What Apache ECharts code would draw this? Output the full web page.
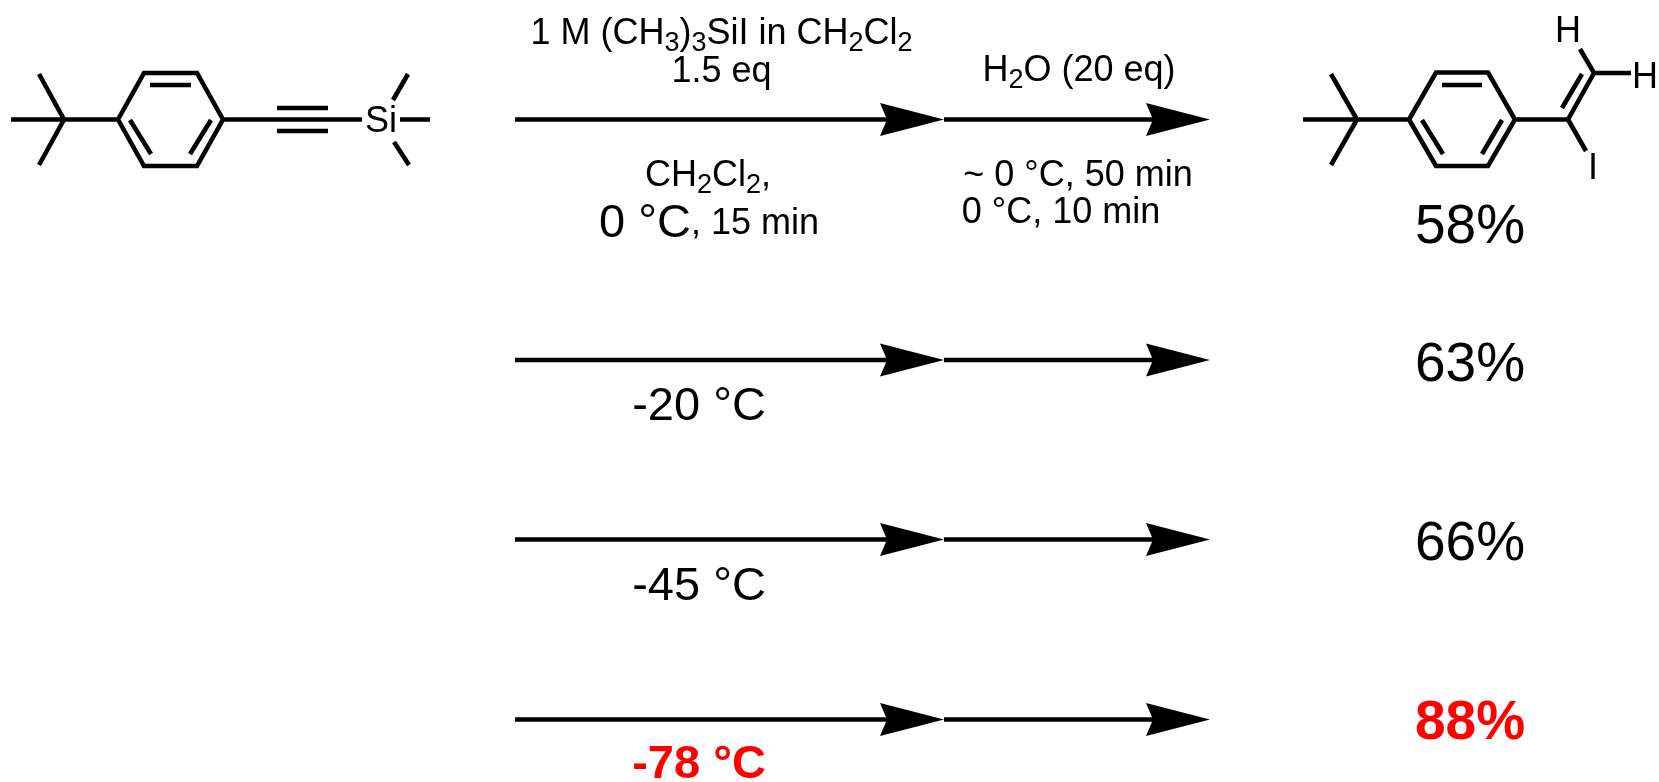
<!DOCTYPE html>
<html><head><meta charset="utf-8">
<style>html,body{margin:0;padding:0;background:#fff}#c{width:1659px;height:782px}</style>
<script src="https://cdn.jsdelivr.net/npm/echarts@6/dist/echarts.min.js"></script>
</head><body><div id="c"></div>
<script>
// Reaction rows (vertical level of each arrow pair), conditions and yields
const rowLevels = [119.5, 360, 539.5, 719.5];
const temperatures = ['-20 °C', '-45 °C', '-78 °C'];
const temperatureBaselines = [421, 601, 779];
const yields = ['58%', '63%', '66%', '88%'];
const yieldBaselines = [244, 382, 561, 740];

// Molecule skeletons: each polyline is a list of [x, y] points
const substrateBonds = [
  [[11,119.5],[118,119.5]], [[39,74],[64,119.5],[39,165]],
  [[118,119.5],[144,73],[197,73],[223,119.5],[197,166],[144,166],[118,119.5]],
  [[150,85],[191,85]], [[130,120],[151,154]], [[211,120],[190,154]],
  [[223,119.5],[362,119.5]], [[277,108],[328,108]], [[277,131],[328,131]],
  [[393,100],[408,74]], [[400,119.5],[430,119.5]], [[394,142],[409,165]]
];
const productBonds = [
  [[1303,119.5],[1409,119.5]], [[1331,74],[1357,119.5],[1331,165]],
  [[1409,119.5],[1436,72.5],[1488,72.5],[1515,119.5],[1488,166],[1436,166],[1409,119.5]],
  [[1442,85],[1482,85]], [[1422,120],[1443,154]], [[1502,120],[1482,154]],
  [[1515,119.5],[1568,119.5],[1594,73]], [[1582,74],[1562,108]],
  [[1580,49],[1594,73],[1631,73]], [[1568,119.5],[1586,151]]
];
// Arrow extents along x
const arrowStart = 515, firstTip = 944, secondTip = 1210;

// Text: [rich text, centre x, baseline y]
const atomLabels = [['Si',381,132],['H',1568,42],['H',1645,88],['I',1593,179]];
const reagentLabels = [
  ['1 M (CH{s|3}){s|3}SiI in CH{s|2}Cl{s|2}',721.5,43],
  ['1.5 eq',721.5,81],
  ['CH{s|2}Cl{s|2},',708,185],
  ['{big|0 °C}, 15 min',709,233],
  ['H{s|2}O (20 eq)',1079,80],
  ['~ 0 °C, 50 min',1078,185],
  ['0 °C, 10 min',1061,222]
];

const FONT = '"Liberation Sans", Arial, sans-serif';
function polylineData(groups) {
  const out = [];
  groups.forEach(g => { g.forEach(p => out.push(p)); out.push(['-', '-']); });
  return out;
}
function bondSeries(groups) {
  return { type:'line', data:polylineData(groups), showSymbol:false, symbol:'none', silent:true,
    connectNulls:false, animation:false, clip:false,
    lineStyle:{color:'#000', width:4.6, cap:'butt', join:'miter'} };
}
function textSeries(rows, base, dy) {
  return { type:'scatter', symbolSize:1, itemStyle:{color:'rgba(0,0,0,0)', opacity:1}, silent:true, animation:false,
    labelLayout:{hideOverlap:false}, clip:false,
    data: rows.map(r => ({ value:[r[1], r[2] - dy], label:{formatter:r[0]} })),
    label:Object.assign({show:true, position:'inside', align:'center', verticalAlign:'middle'}, base) };
}
const reagentRich = {
  s:{fontFamily:FONT, fontSize:27, color:'#000', padding:[20,0,0,0]},
  big:{fontFamily:FONT, fontSize:47, color:'#000'}
};
const shafts = [];
rowLevels.forEach(y => { shafts.push([[arrowStart,y],[firstTip-40,y]]); shafts.push([[firstTip,y],[secondTip-40,y]]); });
const heads = [];
rowLevels.forEach(y => { heads.push([firstTip,y]); heads.push([secondTip,y]); });

const option = {
  backgroundColor:'#fff', animation:false, tooltip:{show:false}, legend:{show:false},
  grid:{left:0,right:0,top:0,bottom:0},
  xAxis:{type:'value',min:0,max:1659,show:false},
  yAxis:{type:'value',min:0,max:782,inverse:true,show:false},
  series:[
    bondSeries(substrateBonds), bondSeries(productBonds), bondSeries(shafts),
    { type:'custom', silent:true, animation:false, clip:false, data:heads,
      renderItem:function(params, api){
        const x = api.value(0), y = api.value(1);
        const pts = [[x,y],[x-64,y-16.5],[x-57,y],[x-64,y+16.5]].map(p => api.coord(p));
        return {type:'polygon', shape:{points:pts}, style:{fill:'#000'}};
      }},
    textSeries(atomLabels, {fontFamily:FONT,fontSize:36,color:'#000'}, 10),
    textSeries(reagentLabels, {fontFamily:FONT,fontSize:36,color:'#000',rich:reagentRich}, 9),
    textSeries(temperatures.slice(0,2).map((t,i)=>[t,699,temperatureBaselines[i]]),
      {fontFamily:FONT,fontSize:47,color:'#000'}, 14),
    textSeries([[temperatures[2],699,temperatureBaselines[2]]],
      {fontFamily:FONT,fontSize:47,fontWeight:'bold',color:'#f00'}, 14),
    textSeries(yields.slice(0,3).map((t,i)=>[t,1470,yieldBaselines[i]]),
      {fontFamily:FONT,fontSize:55,color:'#000'}, 16),
    textSeries([[yields[3],1470,yieldBaselines[3]]],
      {fontFamily:FONT,fontSize:55,fontWeight:'bold',color:'#f00'}, 16)
  ]
};
echarts.init(document.getElementById('c'),null,{renderer:'canvas'}).setOption(option);
</script></body></html>
